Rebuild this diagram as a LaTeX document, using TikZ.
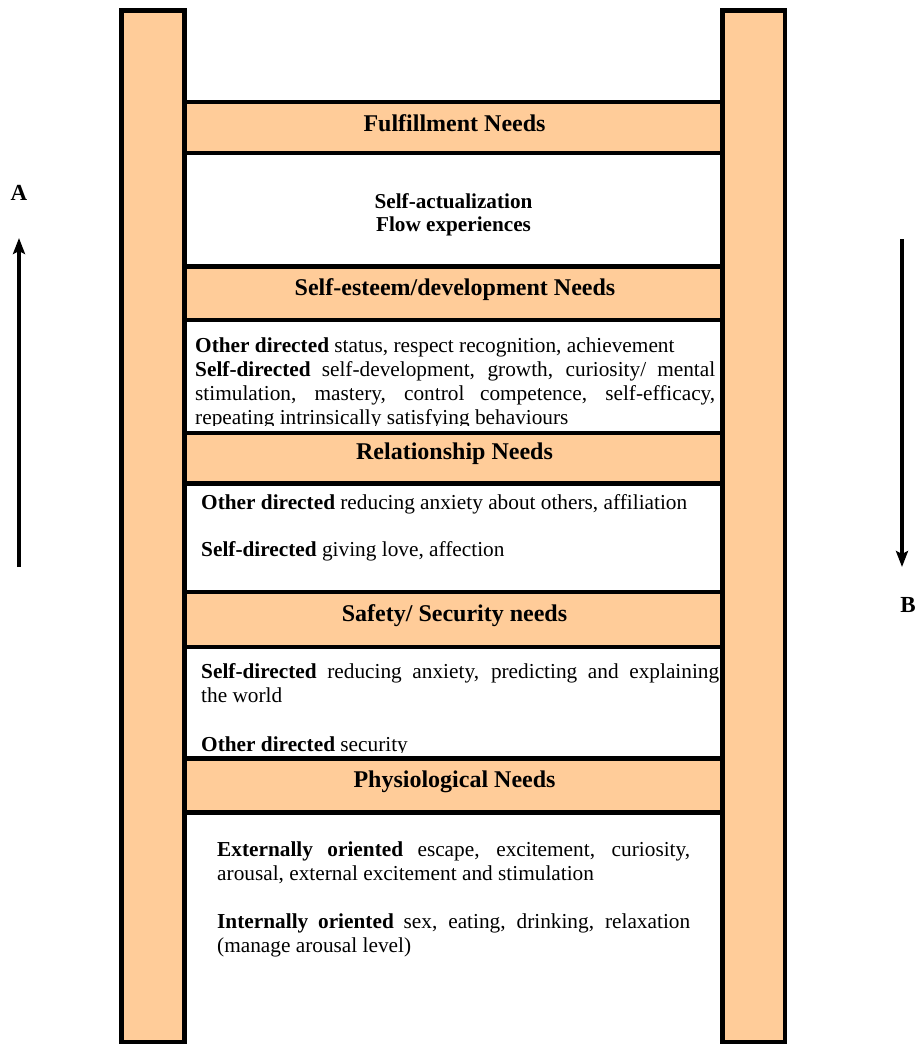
\documentclass[tikz,border=0pt]{standalone}
\usepackage{fontspec}
\setmainfont{Liberation Serif}
\usetikzlibrary{arrows.meta}
\definecolor{railc}{HTML}{FFCC99}
\tikzset{
  rail/.style={draw=black, fill=railc, line width=4.5pt},
  rung/.style={draw=black, fill=railc, line width=4.5pt, inner sep=0pt},
  title/.style={inner sep=0pt, anchor=base, font=\fontsize{24}{28}\selectfont\bfseries},
  body/.style={inner sep=0pt, anchor=base west, font=\fontsize{21.3}{24}\selectfont},
  bodyc/.style={inner sep=0pt, anchor=base, font=\fontsize{21.2}{24}\selectfont\bfseries},
  side/.style={inner sep=0pt, anchor=base, font=\fontsize{23}{26}\selectfont\bfseries},
  arr/.style={line width=3.2pt, -{Stealth[length=16pt,width=12pt,inset=3pt]}}
}
\begin{document}
\begin{tikzpicture}[x=1pt,y=-1pt]
\useasboundingbox (0,0) rectangle (920,1044);
% rails
\draw[rail] (121.5,10.5) rectangle (184.5,1042);
\draw[rail] (722.5,10.5) rectangle (785,1042);
% texts in white panels
\node[bodyc] (sa1) at (453.5,208) {Self-actualization};
\node[bodyc] (sa2) at (453.5,231) {Flow experiences};

\begin{scope}
\clip (184.5,320) rectangle (722.5,425.5);
\node[body] (e1) at (195,352) {\textbf{Other directed} status, respect recognition, achievement};
\node[body] (e2) at (195,376) {\makebox[520pt][s]{\textbf{Self-directed} self-development, growth, curiosity/ mental}};
\node[body] (e3) at (195,400) {\makebox[520pt][s]{stimulation, mastery, control competence, self-efficacy,}};
\node[body] (e4) at (195,424) {repeating intrinsically satisfying behaviours};
\end{scope}

\node[body] (r1) at (201,509) {\textbf{Other directed} reducing anxiety about others, affiliation};
\node[body] (r2) at (201,556) {\textbf{Self-directed} giving love, affection};

\begin{scope}
\clip (184.5,647) rectangle (722.5,752.5);
\node[body] (s1) at (201,678) {\makebox[518pt][s]{\textbf{Self-directed} reducing anxiety, predicting and explaining}};
\node[body] (s2) at (201,702) {the world};
\node[body] (s3) at (201,751) {\textbf{Other directed} security};
\end{scope}

\node[body] (p1) at (217,856) {\makebox[473pt][s]{\textbf{Externally oriented} escape, excitement, curiosity,}};
\node[body] (p2) at (217,880) {arousal, external excitement and stimulation};
\node[body] (p3) at (217,928) {\makebox[473pt][s]{\textbf{Internally oriented} sex, eating, drinking, relaxation}};
\node[body] (p4) at (217,952) {(manage arousal level)};

% rungs
\node[rung, minimum width=538pt, minimum height=51pt] (ful) at (453.5,127.5) {};
\node[rung, minimum width=538pt, minimum height=53.5pt] (est) at (453.5,293.25) {};
\node[rung, minimum width=538pt, minimum height=50.5pt] (rel) at (453.5,458.25) {};
\node[rung, minimum width=538pt, minimum height=55pt] (saf) at (453.5,619.5) {};
\node[rung, minimum width=538pt, minimum height=54pt] (phy) at (453.5,785.5) {};

\node[title] (tful) at (454.5,131.5) {Fulfillment Needs};
\node[title] (test) at (455,295.5) {Self-esteem/development Needs};
\node[title] (trel) at (454.5,459.5) {Relationship Needs};
\node[title] (tsaf) at (454.5,621.5) {Safety/ Security needs};
\node[title] (tphy) at (454.5,787.5) {Physiological Needs};

% side arrows
\node[side] (A) at (19,200) {A};
\coordinate (a0) at (19,567);
\coordinate (a1) at (19,238);
\draw[arr] (a0) -- (a1);
\node[side] (B) at (908,612) {B};
\coordinate (b0) at (902,239);
\coordinate (b1) at (902,567);
\draw[arr] (b0) -- (b1);
\end{tikzpicture}
\end{document}
